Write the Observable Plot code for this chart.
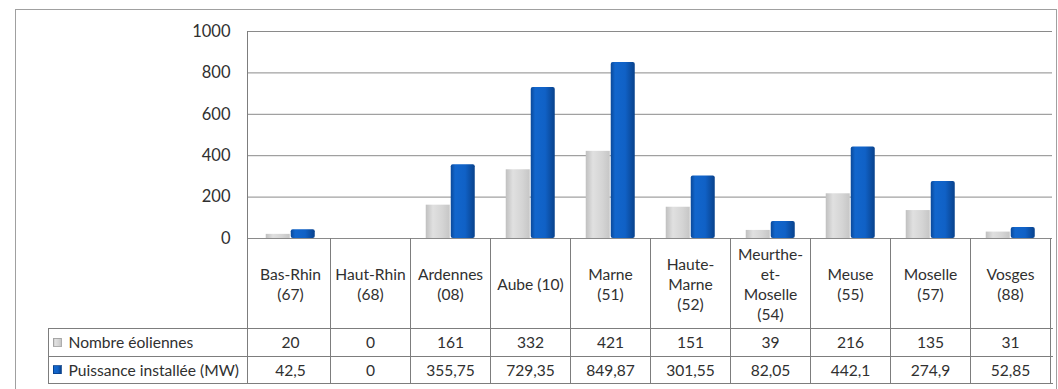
<!DOCTYPE html>
<html>
<head>
<meta charset="utf-8">
<script src="https://cdn.jsdelivr.net/npm/d3@7"></script>
<script src="https://cdn.jsdelivr.net/npm/@observablehq/plot@0.6"></script>
<style>
  body { margin: 0; background: #fff; }
  #chart svg { display: block; }
</style>
</head>
<body>
<div id="chart"></div>
<script>
// Départements (en-têtes du tableau, avec retours à la ligne)
const departements = [
  "Bas-Rhin\n(67)", "Haut-Rhin\n(68)", "Ardennes\n(08)", "Aube (10)", "Marne\n(51)",
  "Haute-\nMarne\n(52)", "Meurthe-\net-\nMoselle\n(54)", "Meuse\n(55)", "Moselle\n(57)", "Vosges\n(88)"
];
const series = ["Nombre éoliennes", "Puissance installée (MW)"];
const nombreEoliennes = [20, 0, 161, 332, 421, 151, 39, 216, 135, 31];
const puissanceMW = [42.5, 0, 355.75, 729.35, 849.87, 301.55, 82.05, 442.1, 274.9, 52.85];
const yTicks = [0, 200, 400, 600, 800, 1000];

const rows = departements.map((d, i) => ({dep: d, nombre: nombreEoliennes[i], puissance: puissanceMW[i]}));
const fr = v => String(v).replace(".", ",");

const W = 1058, H = 389;
const mLeft = 247, mRight = 6, mTop = 31, mBottom = 151;
const step = (W - mLeft - mRight) / departements.length;
const barW = 24.5;
const groupLeft = (step - 2 * barW) / 2;

const font = "Lato, 'Open Sans', sans-serif";
const ink = "#303030";
const lineCol = "#7d7d7d";
const fs = 15.6;

// Dégradés des barres
function gradients() {
  const defs = d3.create("svg:defs");
  const blue = defs.append("linearGradient").attr("id", "gradBleu").attr("x1", 0).attr("x2", 1).attr("y1", 0).attr("y2", 0);
  [[0, "#0a4898"], [0.18, "#1266cc"], [0.6, "#1061c6"], [1, "#09428c"]].forEach(([o, c]) =>
    blue.append("stop").attr("offset", o).attr("stop-color", c));
  const gray = defs.append("linearGradient").attr("id", "gradGris").attr("x1", 0).attr("x2", 1).attr("y1", 0).attr("y2", 0);
  [[0, "#c0c0c0"], [0.3, "#e0e0e0"], [0.7, "#d4d4d4"], [1, "#c6c6c6"]].forEach(([o, c]) =>
    gray.append("stop").attr("offset", o).attr("stop-color", c));
  return defs.node();
}

// Quadrillage du tableau de données, cadre extérieur et pastilles de légende
function tableau(index, scales, values, dimensions) {
  const {x, y} = scales;
  const bw = typeof x.bandwidth === "function" ? x.bandwidth() : x.bandwidth;
  const y0 = y(0);
  const left = dimensions.marginLeft;
  const right = dimensions.width - dimensions.marginRight;
  const legendLeft = 48;
  const hHeader = y0 + 90, hRow1 = y0 + 118, hRow2 = y0 + 145;
  const g = d3.create("svg:g").attr("fill", "none").attr("shape-rendering", "crispEdges");

  // cadre extérieur
  g.append("rect").attr("x", 15.5).attr("y", 9.5).attr("width", dimensions.width - 17).attr("height", dimensions.height + 10)
    .attr("stroke", "#a0a0a0");

  // bord gauche de la zone de tracé
  g.append("line").attr("x1", left + 0.5).attr("x2", left + 0.5).attr("y1", y(1000)).attr("y2", hRow2)
    .attr("stroke", lineCol);

  // séparateurs de colonnes
  departements.forEach(d => {
    const xr = x(d) + bw;
    g.append("line").attr("x1", xr + 0.5).attr("x2", xr + 0.5).attr("y1", y0).attr("y2", hRow2).attr("stroke", lineCol);
  });

  // lignes horizontales
  [hHeader, hRow1, hRow2].forEach(yy => {
    g.append("line").attr("x1", legendLeft).attr("x2", right + 1).attr("y1", yy + 0.5).attr("y2", yy + 0.5).attr("stroke", lineCol);
  });
  g.append("line").attr("x1", legendLeft + 0.5).attr("x2", legendLeft + 0.5).attr("y1", hHeader).attr("y2", hRow2).attr("stroke", lineCol);

  // pastilles de légende
  g.append("rect").attr("x", 53).attr("y", (hHeader + hRow1) / 2 - 4).attr("width", 8).attr("height", 8)
    .attr("fill", "url(#gradGris)").attr("stroke", "#9a9a9a").attr("stroke-width", 0.8);
  g.append("rect").attr("x", 53).attr("y", (hRow1 + hRow2) / 2 - 4).attr("width", 8).attr("height", 8)
    .attr("fill", "url(#gradBleu)").attr("stroke", "#083f88").attr("stroke-width", 0.8);
  return g.node();
}

const chart = Plot.plot({
  width: W,
  height: H,
  marginLeft: mLeft,
  marginRight: mRight,
  marginTop: mTop,
  marginBottom: mBottom,
  style: {fontFamily: font, fontSize: "16.5px", color: ink, background: "#fff"},
  x: {type: "band", domain: departements, padding: 0, axis: null},
  y: {domain: [0, 1000], ticks: yTicks, tickSize: 0, tickPadding: 17, label: null, tickFormat: d => String(d)},
  marks: [
    gradients,
    Plot.ruleY(yTicks, {stroke: "#8a8a8a", strokeWidth: 1}),
    Plot.barY(rows, {x: "dep", y: "nombre", fill: "url(#gradGris)",
      insetLeft: groupLeft, insetRight: step - groupLeft - barW}),
    Plot.barY(rows, {x: "dep", y: "puissance", fill: "url(#gradBleu)", rx: 2,
      insetLeft: groupLeft + barW + 0.5, insetRight: groupLeft - 0.5}),
    tableau,
    // en-têtes des colonnes
    Plot.text(rows, {x: "dep", y: () => 0, dy: 45, text: "dep", lineAnchor: "middle", lineHeight: 1.3,
      fontSize: fs, fill: ink}),
    // ligne « Nombre éoliennes »
    Plot.text(rows, {x: "dep", y: () => 0, dy: 104, text: d => fr(d.nombre), fontSize: fs, fill: ink}),
    // ligne « Puissance installée (MW) »
    Plot.text(rows, {x: "dep", y: () => 0, dy: 132, text: d => fr(d.puissance), fontSize: fs, fill: ink}),
    Plot.text([series[0]], {frameAnchor: "left", y: () => 0, dx: 68 - mLeft, dy: 104, textAnchor: "start",
      text: d => d, fontSize: fs, fill: ink}),
    Plot.text([series[1]], {frameAnchor: "left", y: () => 0, dx: 68 - mLeft, dy: 132, textAnchor: "start",
      text: d => d, fontSize: fs, fill: ink})
  ]
});

document.getElementById("chart").append(chart);
</script>
</body>
</html>
